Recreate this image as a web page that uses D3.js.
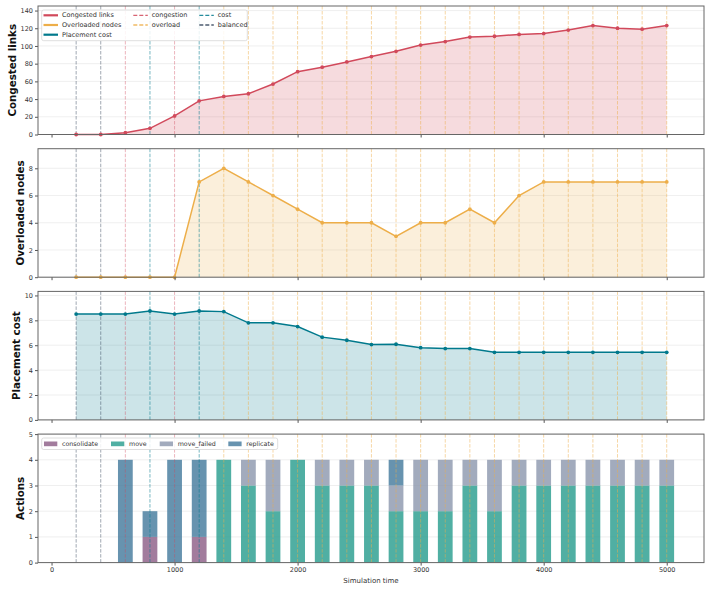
<!DOCTYPE html>
<html lang="en">
<head>
<meta charset="UTF-8">
<title>Simulation metrics</title>
<script src="https://d3js.org/d3.v7.min.js"></script>
<style>
  body { margin: 0; background: #fff; }
  svg { font-family: "DejaVu Sans", sans-serif; }
</style>
</head>
<body>
<div id="chart"></div>
<script>
// ---- data ----
var times = [200, 400, 600, 800, 1000, 1200, 1400, 1600, 1800, 2000, 2200, 2400, 2600,
             2800, 3000, 3200, 3400, 3600, 3800, 4000, 4200, 4400, 4600, 4800, 5000];
var congestedLinks = [0, 0, 2, 7, 21, 38, 43, 46, 57, 71, 76, 82, 88,
                      94, 101, 105, 110, 111, 113, 114, 118, 123, 120, 119, 123];
var overloadedNodes = [0, 0, 0, 0, 0, 7, 8, 7, 6, 5, 4, 4, 4,
                       3, 4, 4, 5, 4, 6, 7, 7, 7, 7, 7, 7];
var placementCost = [8.5, 8.5, 8.5, 8.75, 8.5, 8.75, 8.7, 7.8, 7.8, 7.5, 6.65, 6.4, 6.05,
                     6.08, 5.8, 5.73, 5.73, 5.43, 5.43, 5.43, 5.43, 5.43, 5.43, 5.43, 5.43];

var actionTimes = [600, 800, 1000, 1200, 1400, 1600, 1800, 2000, 2200, 2400, 2600, 2800,
                   3000, 3200, 3400, 3600, 3800, 4000, 4200, 4400, 4600, 4800, 5000];
var consolidate = [0, 1, 0, 1, 0, 0, 0, 0, 0, 0, 0, 0, 0, 0, 0, 0, 0, 0, 0, 0, 0, 0, 0];
var move        = [0, 0, 0, 0, 4, 3, 2, 4, 3, 3, 3, 2, 2, 2, 3, 2, 3, 3, 3, 3, 3, 3, 3];
var moveFailed  = [0, 0, 0, 0, 0, 1, 2, 0, 1, 1, 1, 1, 2, 2, 1, 2, 1, 1, 1, 1, 1, 1, 1];
var replicate   = [4, 1, 4, 3, 0, 0, 0, 0, 0, 0, 0, 1, 0, 0, 0, 0, 0, 0, 0, 0, 0, 0, 0];

var eventTimes = [200, 400, 600, 800, 1000, 1200, 1400, 1600, 1800, 2000, 2200, 2400, 2600,
                  2800, 3000, 3200, 3400, 3600, 3800, 4000, 4200, 4400, 4600, 4800, 5000];
var eventTypes = ["balanced", "balanced", "congestion", "cost", "congestion", "cost",
                  "overload", "overload", "overload", "overload", "overload", "overload", "overload",
                  "overload", "overload", "overload", "overload", "overload", "overload", "overload",
                  "overload", "overload", "overload", "overload", "overload"];

var xTicks = [0, 1000, 2000, 3000, 4000, 5000];
var actionKeys = ["consolidate", "move", "move_failed", "replicate"];

// ---- colours ----
var eventColor = { congestion: "#d1495b", overload: "#edae49", cost: "#00798c", balanced: "#2e4057" };
var eventAlpha = { congestion: 0.45, overload: 0.55, cost: 0.6, balanced: 0.5 };
var actionColor = { consolidate: "#8e5f88", move: "#2a9d8f", move_failed: "#8d99ae", replicate: "#457b9d" };

// ---- layout ----
var W = 712, H = 589;
var left = 38, right = 704;
var panelH = 128.5, panelStep = 142.7, firstTop = 6;

var svg = d3.select("#chart").append("svg")
    .attr("width", W).attr("height", H);

var x = d3.scaleLinear().domain([-110, 5303]).range([left, right]);

var panels = [
    { label: "Congested links", values: congestedLinks, color: "#d1495b", yTicks: [0, 20, 40, 60, 80, 100, 120, 140] },
    { label: "Overloaded nodes", values: overloadedNodes, color: "#edae49", yTicks: [0, 2, 4, 6, 8] },
    { label: "Placement cost", values: placementCost, color: "#00798c", yTicks: [0, 2, 4, 6, 8, 10] },
    { label: "Actions", bars: true, yTicks: [0, 1, 2, 3, 4, 5] }
];

// stacked action data
var actionRows = actionTimes.map(function (t, i) {
    return { t: t, consolidate: consolidate[i], move: move[i], move_failed: moveFailed[i], replicate: replicate[i] };
});
var stacked = d3.stack().keys(actionKeys)(actionRows);

panels.forEach(function (p, pi) {
    var top = firstTop + pi * panelStep, bottom = top + panelH;
    var yMax = p.bars ? d3.max(actionRows, function (d) { return d.consolidate + d.move + d.move_failed + d.replicate; }) + 1
                      : d3.max(p.values) * 1.18;
    var y = d3.scaleLinear().domain([0, yMax]).range([bottom, top]);
    var g = svg.append("g");

    // horizontal grid
    g.selectAll(".grid").data(p.yTicks).enter().append("line")
        .attr("x1", left).attr("x2", right)
        .attr("y1", function (d) { return y(d); }).attr("y2", function (d) { return y(d); })
        .attr("stroke", "#ebebeb").attr("stroke-width", 0.8);

    if (p.bars) {
        var bw = x(120) - x(0);
        g.selectAll(".layer").data(stacked).enter().append("g")
            .attr("fill", function (d) { return actionColor[d.key]; })
            .attr("fill-opacity", 0.82)
            .selectAll("rect").data(function (d) { return d; }).enter()
            .filter(function (d) { return d[1] > d[0]; })
            .append("rect")
            .attr("x", function (d) { return x(d.data.t) - bw / 2; })
            .attr("width", bw)
            .attr("y", function (d) { return y(d[1]); })
            .attr("height", function (d) { return y(d[0]) - y(d[1]); });
    } else {
        var pts = times.map(function (t, i) { return [t, p.values[i]]; });
        g.append("path").datum(pts)
            .attr("fill", p.color).attr("fill-opacity", 0.2)
            .attr("d", d3.area().x(function (d) { return x(d[0]); }).y0(y(0)).y1(function (d) { return y(d[1]); }));
    }

    // event lines
    g.selectAll(".ev").data(eventTimes).enter().append("line")
        .attr("x1", function (d) { return x(d); }).attr("x2", function (d) { return x(d); })
        .attr("y1", top).attr("y2", bottom)
        .attr("stroke", function (d, i) { return eventColor[eventTypes[i]]; })
        .attr("stroke-opacity", function (d, i) { return eventAlpha[eventTypes[i]]; })
        .attr("stroke-width", 0.9)
        .attr("stroke-dasharray", "3.5,1.5");

    if (!p.bars) {
        var pts2 = times.map(function (t, i) { return [t, p.values[i]]; });
        g.append("path").datum(pts2)
            .attr("fill", "none").attr("stroke", p.color).attr("stroke-width", 1.5)
            .attr("d", d3.line().x(function (d) { return x(d[0]); }).y(function (d) { return y(d[1]); }));
        g.selectAll(".pt").data(pts2).enter().append("circle")
            .attr("cx", function (d) { return x(d[0]); }).attr("cy", function (d) { return y(d[1]); })
            .attr("r", 1.9).attr("fill", p.color);
    }

    // y axis
    var ya = g.append("g").attr("transform", "translate(" + left + ",0)")
        .call(d3.axisLeft(y).tickValues(p.yTicks).tickFormat(d3.format("d")).tickSize(3).tickPadding(2));
    ya.select(".domain").remove();
    ya.selectAll(".tick line").attr("stroke", "#555");
    ya.selectAll(".tick text").attr("font-size", "6.5px").attr("fill", "#333").attr("font-family", "DejaVu Sans");

    // x axis
    var xa = g.append("g").attr("transform", "translate(0," + bottom + ")")
        .call(d3.axisBottom(x).tickValues(xTicks).tickFormat(d3.format("d")).tickSize(3).tickPadding(2));
    xa.select(".domain").remove();
    xa.selectAll(".tick line").attr("stroke", "#555");
    xa.selectAll(".tick text").attr("font-size", "6.5px").attr("fill", "#333").attr("font-family", "DejaVu Sans");
    if (!p.bars) xa.selectAll(".tick text").remove();

    // frame
    g.append("rect").attr("x", left).attr("y", top)
        .attr("width", right - left).attr("height", panelH)
        .attr("fill", "none").attr("stroke", "#666").attr("stroke-width", 1);

    // y label placed left of widest tick label
    var maxW = 0;
    ya.selectAll(".tick text").each(function () { maxW = Math.max(maxW, this.getComputedTextLength()); });
    var lx = left - 5 - maxW - 8.7;
    g.append("text")
        .attr("transform", "translate(" + lx + "," + (top + panelH / 2) + ") rotate(-90)")
        .attr("text-anchor", "middle").attr("dominant-baseline", "central")
        .attr("font-size", "10.3px").attr("font-weight", "bold").attr("fill", "#111")
        .text(p.label);
});

// x label
svg.append("text")
    .attr("x", (left + right) / 2).attr("y", 582.5)
    .attr("text-anchor", "middle").attr("font-size", "7px").attr("fill", "#333")
    .text("Simulation time");

// ---- top legend ----
var lg = svg.append("g");
lg.append("rect").attr("x", 41.7).attr("y", 10).attr("width", 205.6).attr("height", 30.7)
    .attr("rx", 2).attr("fill", "#fff").attr("fill-opacity", 0.85)
    .attr("stroke", "#d6d6d6").attr("stroke-width", 0.8);
var legendItems = [
    { text: "Congested links", color: "#d1495b", dash: null, col: 0, row: 0 },
    { text: "Overloaded nodes", color: "#edae49", dash: null, col: 0, row: 1 },
    { text: "Placement cost", color: "#00798c", dash: null, col: 0, row: 2 },
    { text: "congestion", color: eventColor.congestion, dash: "4,2", col: 1, row: 0 },
    { text: "overload", color: eventColor.overload, dash: "4,2", col: 1, row: 1 },
    { text: "cost", color: eventColor.cost, dash: "4,2", col: 2, row: 0 },
    { text: "balanced", color: eventColor.balanced, dash: "4,2", col: 2, row: 1 }
];
var colX = [43.5, 133.3, 199.3], rowY = [15.3, 25, 34.7];
legendItems.forEach(function (it) {
    var sx = colX[it.col], sy = rowY[it.row];
    var ln = lg.append("line").attr("x1", sx).attr("x2", sx + 14.5).attr("y1", sy).attr("y2", sy)
        .attr("stroke", it.color).attr("stroke-width", it.dash ? 1.3 : 2.2);
    if (it.dash) ln.attr("stroke-dasharray", it.dash).attr("stroke-opacity", 0.85);
    lg.append("text").attr("x", sx + 18.5).attr("y", sy).attr("dominant-baseline", "central")
        .attr("font-size", "6.5px").attr("fill", "#333").text(it.text);
});

// ---- actions legend ----
var bl = svg.append("g");
bl.append("rect").attr("x", 41.7).attr("y", 438).attr("width", 236).attr("height", 11.5)
    .attr("rx", 2).attr("fill", "#fff").attr("fill-opacity", 0.85)
    .attr("stroke", "#d6d6d6").attr("stroke-width", 0.8);
var patchX = [44, 111, 159.7, 228.3];
actionKeys.forEach(function (k, i) {
    bl.append("rect").attr("x", patchX[i]).attr("y", 441.5).attr("width", 13.3).attr("height", 4.7)
        .attr("fill", actionColor[k]).attr("fill-opacity", 0.82);
    bl.append("text").attr("x", patchX[i] + 18).attr("y", 443.9).attr("dominant-baseline", "central")
        .attr("font-size", "6.3px").attr("fill", "#333").text(k);
});
</script>
</body>
</html>
